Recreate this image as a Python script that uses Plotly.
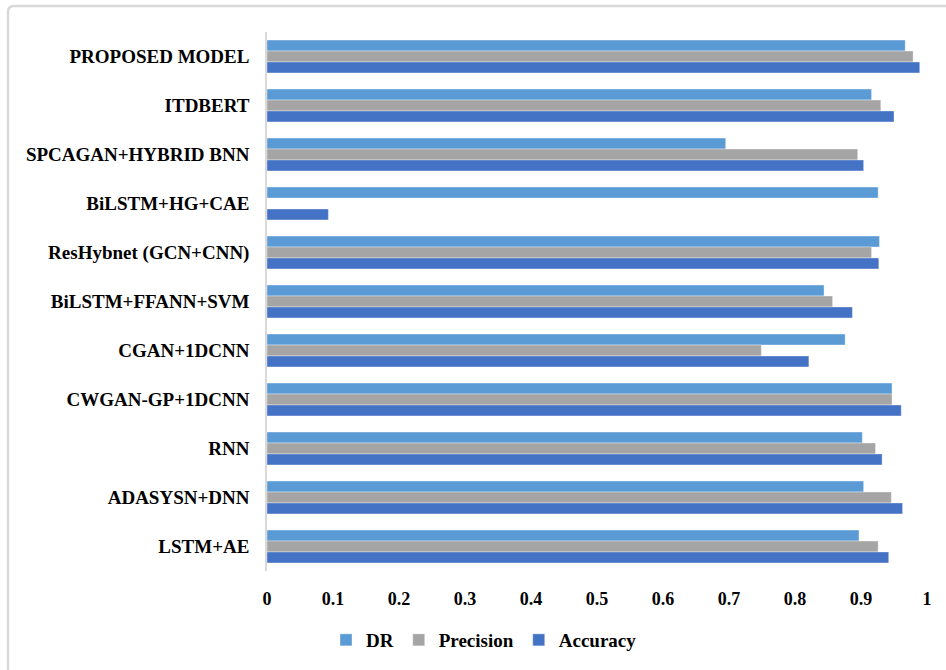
import plotly.graph_objects as go

categories = [
    "PROPOSED MODEL",
    "ITDBERT",
    "SPCAGAN+HYBRID BNN",
    "BiLSTM+HG+CAE",
    "ResHybnet (GCN+CNN)",
    "BiLSTM+FFANN+SVM",
    "CGAN+1DCNN",
    "CWGAN-GP+1DCNN",
    "RNN",
    "ADASYSN+DNN",
    "LSTM+AE",
]

dr = [0.967, 0.916, 0.695, 0.926, 0.928, 0.844, 0.876, 0.947, 0.902, 0.904, 0.897]
precision = [0.979, 0.930, 0.895, None, 0.916, 0.857, 0.749, 0.947, 0.922, 0.946, 0.926]
accuracy = [0.989, 0.950, 0.904, 0.093, 0.927, 0.887, 0.821, 0.961, 0.932, 0.963, 0.942]

tick_vals = [0, 0.1, 0.2, 0.3, 0.4, 0.5, 0.6, 0.7, 0.8, 0.9, 1.0]
tick_text = ["0", "0.1", "0.2", "0.3", "0.4", "0.5", "0.6", "0.7", "0.8", "0.9", "1"]

series = [
    ("DR", dr, "#5B9BD5"),
    ("Precision", precision, "#A5A5A5"),
    ("Accuracy", accuracy, "#4472C4"),
]

FONT = "Liberation Serif"

fig = go.Figure()
for name, vals, color in series:
    fig.add_trace(go.Bar(
        y=categories, x=vals, name=name, orientation="h",
        marker=dict(color=color, line=dict(color="rgba(255,255,255,0.6)", width=0.6)),
    ))

W, H = 946, 670
L, R, T, B = 267, 19, 32, 98
pw, ph = W - L - R, H - T - B

def px(x):
    return (x - L) / pw

def py(y):
    return (H - B - y) / ph

x0, y0 = px(8), py(6)
x1, y1 = px(960), py(690)
rx, ry = 6 / pw, 6 / ph
border = (f"M {x0},{y1} L {x0},{y0 - ry} Q {x0},{y0} {x0 + rx},{y0} L {x1},{y0}")

fig.update_layout(
    width=W, height=H,
    margin=dict(l=L, r=R, t=T, b=B),
    paper_bgcolor="white", plot_bgcolor="white",
    barmode="group", bargap=0.33, bargroupgap=0,
    font=dict(family=FONT, color="black"),
    xaxis=dict(
        range=[0, 1.0], tickvals=tick_vals, ticktext=tick_text,
        showgrid=False, zeroline=False, showline=False,
        ticks="outside", ticklen=11, tickcolor="rgba(0,0,0,0)",
        tickfont=dict(family=FONT, size=18, color="black", weight="bold"),
        fixedrange=True,
    ),
    yaxis=dict(
        autorange="reversed", showgrid=False, zeroline=False,
        showline=True, linecolor="#d9d9d9", linewidth=1.5,
        ticks="outside", ticklen=12, tickcolor="rgba(0,0,0,0)",
        tickfont=dict(family=FONT, size=19, color="black", weight="bold"),
    ),
    legend=dict(
        orientation="h", x=px(484), xanchor="center", y=py(640), yanchor="middle",
        font=dict(family=FONT, size=19, color="black", weight="bold"),
        traceorder="normal", itemwidth=30,
    ),
    shapes=[dict(type="path", path=border, xref="paper", yref="paper",
                 line=dict(color="#d9d9d9", width=2.5), layer="below")],
)

fig.write_html("out.html", config={"displayModeBar": False},
               post_script="document.body.style.margin='0';")
